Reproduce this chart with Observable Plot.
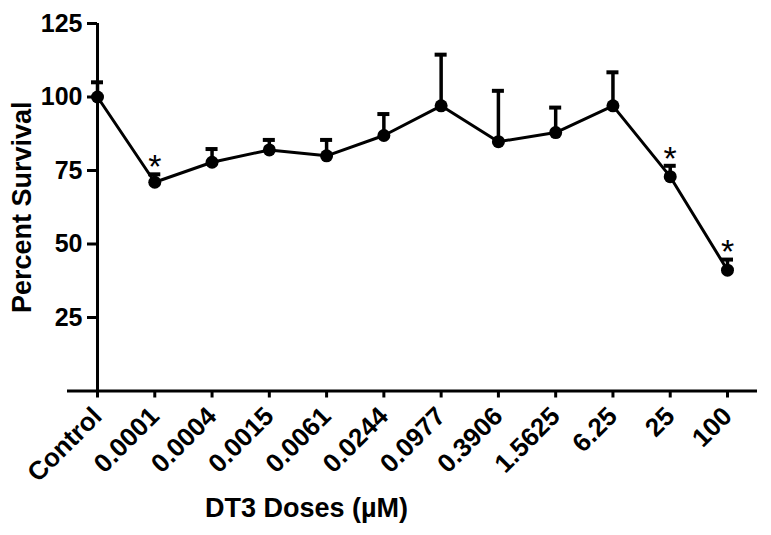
<!DOCTYPE html>
<html>
<head>
<meta charset="utf-8">
<script src="https://cdn.jsdelivr.net/npm/d3@7"></script>
<script src="https://cdn.jsdelivr.net/npm/@observablehq/plot@0.6"></script>
<style>
  html, body { margin: 0; padding: 0; background: #fff; }
  #chart svg { display: block; }
</style>
</head>
<body>
<div id="chart"></div>
<script>
const categories = ["Control","0.0001","0.0004","0.0015","0.0061","0.0244","0.0977","0.3906","1.5625","6.25","25","100"];
const means = [100, 71, 77.8, 82, 80, 86.9, 97, 84.8, 87.9, 97, 72.9, 41.1];
const errors = [5, 2.7, 4.5, 3.4, 5.4, 7.3, 17.4, 17.3, 8.5, 11.4, 3.7, 3.6];
const significant = ["0.0001", "25", "100"];
const yTicks = [25, 50, 75, 100, 125];

const data = categories.map((c, i) => ({i, c, mean: means[i], upper: means[i] + errors[i], sig: significant.includes(c)}));
const font = "'Liberation Sans', Arial, sans-serif";

const chart = Plot.plot({
  width: 771,
  height: 535,
  marginLeft: 67,
  marginRight: 14,
  marginTop: 23,
  marginBottom: 144.5,
  style: {fontFamily: font, background: "#fff", color: "#000"},
  x: {type: "linear", domain: [-0.524, categories.length - 1 + 0.524]},
  y: {domain: [0, 125]},
  marks: [
    Plot.ruleY([0], {x1: -0.524, x2: categories.length - 1 + 0.524, stroke: "#000", strokeWidth: 3}),
    Plot.ruleX([0], {y1: 0, y2: 125, stroke: "#000", strokeWidth: 3}),
    Plot.axisY({ticks: yTicks, tickSize: 10, tickPadding: 5, dx: 30, fontSize: 25, fontWeight: "bold", strokeWidth: 3, label: null}),
    Plot.axisX({ticks: d3.range(categories.length), tickFormat: i => categories[i], tickSize: 7, tickRotate: -45, tickPadding: 14, fontSize: 26, fontWeight: "bold", strokeWidth: 3, label: null}),
    Plot.ruleX(data, {x: "i", y1: "mean", y2: "upper", stroke: "#000", strokeWidth: 3.5}),
    Plot.ruleY(data, {y: "upper", x1: d => d.i - 0.105, x2: d => d.i + 0.105, stroke: "#000", strokeWidth: 4}),
    Plot.line(data, {x: "i", y: "mean", stroke: "#000", strokeWidth: 3}),
    Plot.dot(data, {x: "i", y: "mean", r: 6.5, fill: "#000"}),
    Plot.text(data.filter(d => d.sig), {x: "i", y: "upper", text: () => "*", dy: -7, fontSize: 34, lineAnchor: "middle"}),
    Plot.text(["Percent Survival"], {frameAnchor: "left", textAnchor: "middle", lineAnchor: "middle", rotate: -90, dx: -45, fontSize: 27, fontWeight: "bold"}),
    Plot.text(["DT3 Doses (µM)"], {frameAnchor: "bottom", dx: -106, dy: 126, fontSize: 27, fontWeight: "bold"})
  ]
});
document.getElementById("chart").appendChild(chart);
</script>
</body>
</html>
